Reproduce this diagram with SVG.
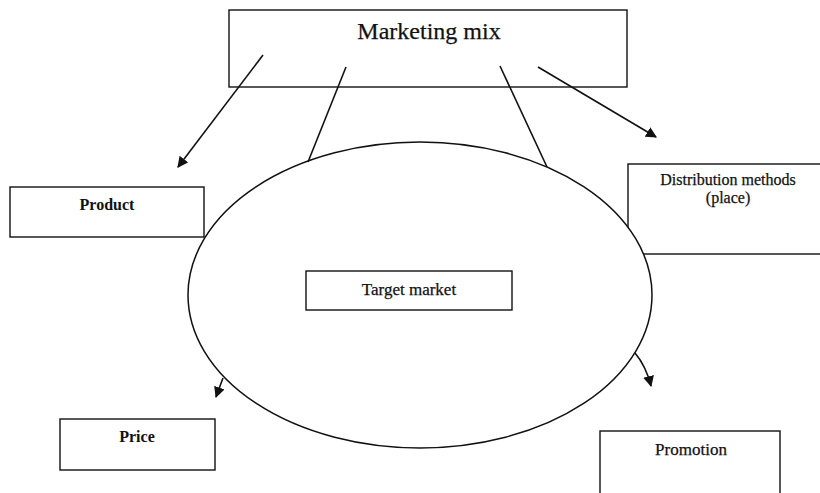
<svg xmlns="http://www.w3.org/2000/svg" width="820" height="493" viewBox="0 0 820 493">
<style>
.box{fill:#fff;stroke:#111;stroke-width:1.4}
.t{font-family:"Liberation Serif","Times New Roman",serif;fill:#111;text-anchor:middle;stroke:#111;stroke-width:0.25}
.b{font-weight:bold;stroke-width:0}
.ln{fill:none;stroke:#111;stroke-width:1.6}
</style>
<defs>
<marker id="ah" viewBox="0 0 10 10" refX="9" refY="5" markerWidth="11" markerHeight="11" markerUnits="userSpaceOnUse" orient="auto">
<path d="M0,0 L10,5 L0,10 z" fill="#111"/>
</marker>
</defs>
<rect width="820" height="493" fill="#fff"/>
<g id="marketing-mix">
<rect class="box" x="229" y="10" width="398" height="77"/>
<text class="t" x="429" y="39" font-size="24">Marketing mix</text>
</g>
<g id="product">
<rect class="box" x="10" y="187" width="194" height="50"/>
<text class="t b" x="107" y="210" font-size="16">Product</text>
</g>
<g id="distribution">
<rect class="box" x="628" y="164" width="200" height="90"/>
<text class="t" x="728" y="185" font-size="16">Distribution methods</text>
<text class="t" x="728" y="203" font-size="16">(place)</text>
</g>
<g id="price">
<rect class="box" x="60" y="419" width="155" height="51"/>
<text class="t b" x="137" y="442" font-size="16">Price</text>
</g>
<g id="promotion">
<rect class="box" x="600" y="431" width="180" height="70"/>
<text class="t" x="691" y="455" font-size="17">Promotion</text>
</g>
<g id="target-circle">
<ellipse cx="420" cy="295" rx="232" ry="153" fill="#fff" stroke="#111" stroke-width="1.5"/>
</g>
<g id="target-market">
<rect class="box" x="306" y="271" width="206" height="39"/>
<text class="t" x="409" y="295" font-size="17">Target market</text>
</g>
<g id="connectors">
<line class="ln" x1="263" y1="55" x2="178" y2="167" marker-end="url(#ah)"/>
<line class="ln" x1="346" y1="67" x2="308" y2="162"/>
<line class="ln" x1="500" y1="66" x2="547" y2="167"/>
<line class="ln" x1="538" y1="67" x2="656" y2="137" marker-end="url(#ah)"/>
<path class="ln" d="M223,378 Q220,386 216,397" marker-end="url(#ah)"/>
<path class="ln" d="M635,353 Q646,366 651,386" marker-end="url(#ah)"/>
</g>
</svg>
